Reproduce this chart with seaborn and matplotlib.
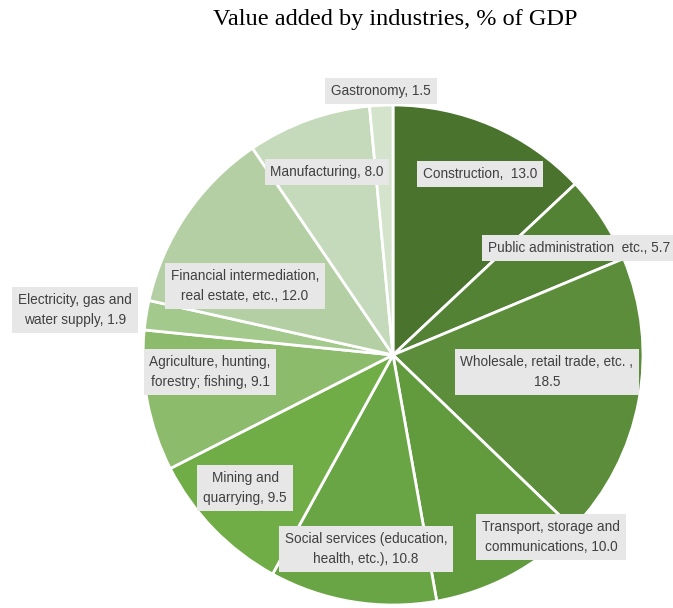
import matplotlib
matplotlib.use("Agg")
import matplotlib.pyplot as plt
import seaborn as sns

sns.set_style("white")
plt.rcParams['font.family'] = ['Liberation Sans', 'DejaVu Sans']

categories = [
    "Construction", "Public administration  etc.", "Wholesale, retail trade, etc. ,",
    "Transport, storage and\ncommunications", "Social services (education,\nhealth, etc.)",
    "Mining and\nquarrying", "Agriculture, hunting,\nforestry; fishing",
    "Electricity, gas and\nwater supply", "Financial intermediation,\nreal estate, etc.",
    "Manufacturing", "Gastronomy",
]
values = [13.0, 5.7, 18.5, 10.0, 10.8, 9.5, 9.1, 1.9, 12.0, 8.0, 1.5]
label_texts = [
    "Construction,  13.0", "Public administration  etc., 5.7", "Wholesale, retail trade, etc. ,\n18.5",
    "Transport, storage and\ncommunications, 10.0", "Social services (education,\nhealth, etc.), 10.8",
    "Mining and\nquarrying, 9.5", "Agriculture, hunting,\nforestry; fishing, 9.1",
    "Electricity, gas and\nwater supply, 1.9", "Financial intermediation,\nreal estate, etc., 12.0",
    "Manufacturing, 8.0", "Gastronomy, 1.5",
]
colors = ["#4a742e", "#548235", "#5b8d3a", "#629a3e", "#69a544", "#70ad47",
          "#8cbb6c", "#a3c98c", "#b3cfa3", "#c5dabb", "#d4e3cc"]
# label box centers (pixels in 673x608 image)
label_px = [(480, 174), (579, 248), (547, 372), (551, 537), (366, 549), (245, 488),
            (210, 372), (75, 310), (245, 286), (327, 172), (381, 91)]

W, H = 673, 608
fig = plt.figure(figsize=(W / 100, H / 100), dpi=100)
cx, cy, r = 393, 355, 250
ax = fig.add_axes([(cx - r) / W, (H - cy - r) / H, 2 * r / W, 2 * r / H])
ax.pie(values, colors=colors, startangle=90, counterclock=False, radius=1,
       wedgeprops=dict(edgecolor="white", linewidth=2))
ax.set_xlim(-1, 1)
ax.set_ylim(-1, 1)
ax.set_aspect("equal")
ax.axis("off")

for txt, (px, py) in zip(label_texts, label_px):
    ax.text((px - cx) / r, (cy - py) / r, txt, ha="center", va="center",
            fontsize=9.8, color="#404040", linespacing=1.6, clip_on=False,
            bbox=dict(boxstyle="square,pad=0.42", facecolor="#e7e7e7", edgecolor="none"))

fig.text(395 / W, 1 - 20 / H, "Value added by industries, % of GDP", ha="center", va="center",
         fontsize=17.5, family=["Liberation Serif", "DejaVu Serif"], color="black")

fig.savefig("out.png", dpi=100)
